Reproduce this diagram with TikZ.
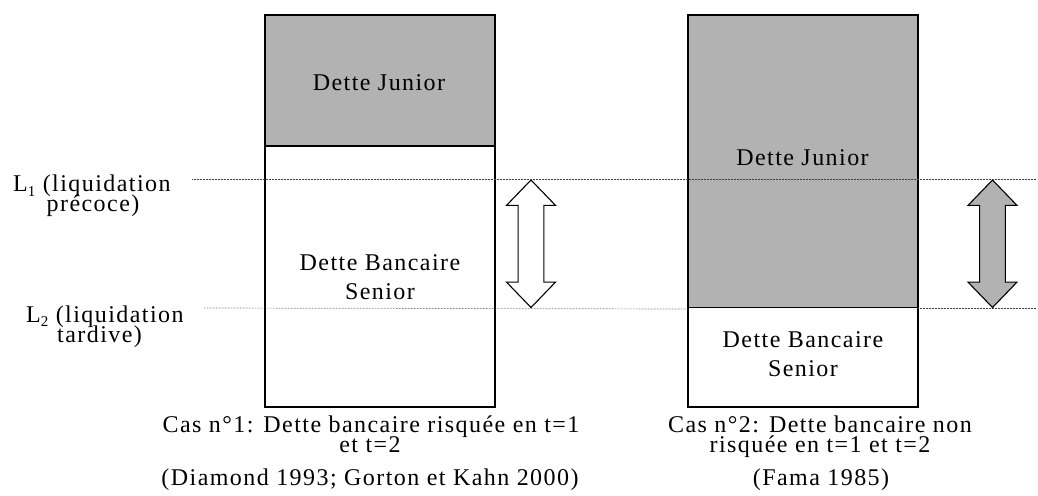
\documentclass[tikz,border=0pt]{standalone}
\usepackage{fontspec}
\setmainfont{Liberation Serif}[LetterSpace=6]
\definecolor{boxgrey}{RGB}{178,178,178}
\tikzset{
  lbl/.style={inner sep=0pt, anchor=base, font=\fontsize{24}{24}\selectfont},
  lblw/.style={lbl, anchor=base west},
  boxline/.style={draw=black, line width=1.3pt},
  dotline/.style={draw=black!75, line width=0.7pt, dash pattern=on 0.7pt off 0.8pt},
  arrowline/.style={draw=black, line width=1.1pt, line join=miter},
}
\newcommand{\dblarrow}[4]{% cx, top, bottom, fill
  \filldraw[arrowline, fill=#4]
    (#1,#2) -- ++(24.5,25.4) -- ++(-11.6,0) -- (#1+12.9,#3-25.4) -- ++(11.6,0)
    -- (#1,#3) -- (#1-24.5,#3-25.4) -- ++(11.6,0) -- (#1-12.9,#2+25.4)
    -- ++(-11.6,0) -- cycle;}
\begin{document}
\begin{tikzpicture}[x=1pt,y=-1pt]
\useasboundingbox (0,0) rectangle (1038,495);
\fill[white] (0,0) rectangle (1038,495);
% left column
\filldraw[boxline, fill=boxgrey] (265,15) rectangle (495,146);
\draw[boxline] (265,146) rectangle (495,407);
% right column
\filldraw[boxline, fill=boxgrey] (688,15) rectangle (918,307.5);
\draw[boxline] (688,307.5) rectangle (918,407);
% arrows
\dblarrow{531}{180}{307.5}{white}
\dblarrow{992.5}{180}{307.5}{boxgrey}
% dotted lines
\coordinate (l1s) at (192,179);
\coordinate (l1e) at (1036,179);
\coordinate (l2s) at (204,308);
\coordinate (l2e) at (688,309);
\coordinate (l2rs) at (918,308);
\coordinate (l2re) at (1036,308);
\draw[dotline] (l1s) -- (l1e);
\draw[dotline] (l2s) -- (l2e);
\draw[dotline] (l2rs) -- (l2re);
% box texts
\node[lbl] (jl) at (379,90) {Dette Junior};
\node[lbl] (sl1) at (380,270) {Dette Bancaire};
\node[lbl] (sl2) at (380,299) {Senior};
\node[lbl] (jr) at (802.5,165) {Dette Junior};
\node[lbl] (sr1) at (803,347) {Dette Bancaire};
\node[lbl] (sr2) at (803,376) {Senior};
% level labels
\node[lblw] (l1a) at (13,191.7) {L\raisebox{-4.5pt}{\fontsize{15}{15}\selectfont 1} (liquidation};
\node[lblw] (l1b) at (46.5,211.7) {précoce)};
\node[lblw] (l2a) at (26,322) {L\raisebox{-4.5pt}{\fontsize{15}{15}\selectfont 2} (liquidation};
\node[lblw] (l2b) at (57,342) {tardive)};
% captions
\node[lbl] (c1a) at (371,432) {Cas n°1: Dette bancaire risquée en t=1};
\node[lbl] (c1b) at (370,452) {et t=2};
\node[lbl] (c1c) at (370,485) {(Diamond 1993; Gorton et Kahn 2000)};
\node[lbl] (c2a) at (820,432) {Cas n°2: Dette bancaire non};
\node[lbl] (c2b) at (820,452) {risquée en t=1 et t=2};
\node[lbl] (c2c) at (821,485) {(Fama 1985)};
\end{tikzpicture}
\end{document}
